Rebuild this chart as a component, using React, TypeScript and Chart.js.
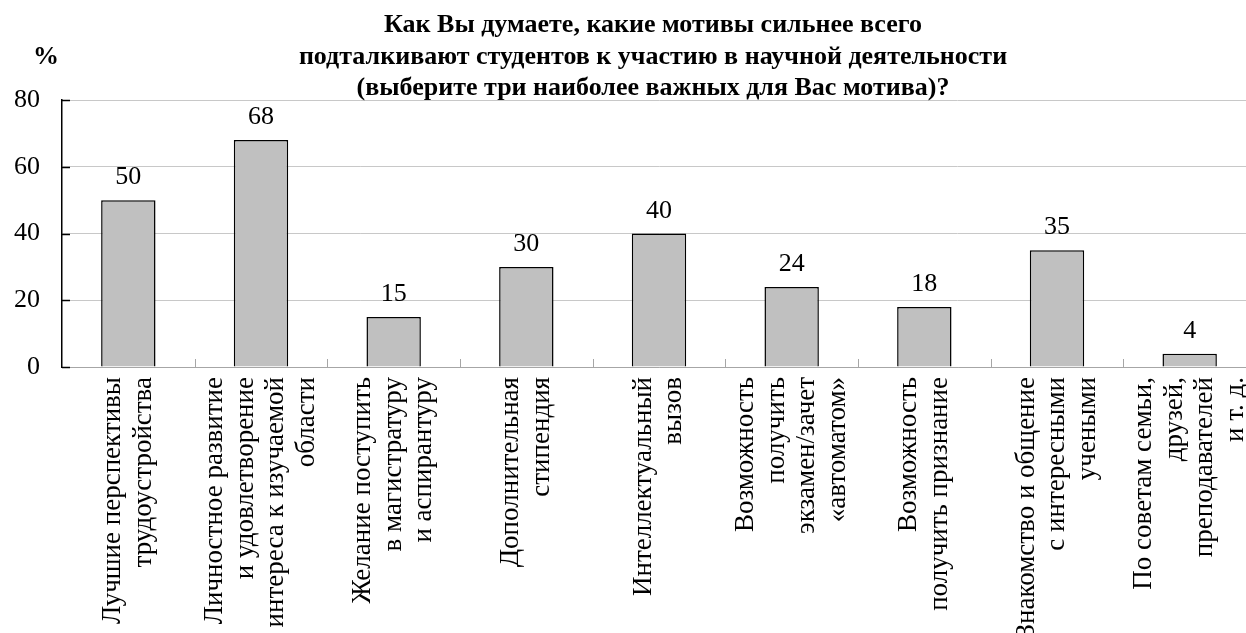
import React, { useEffect, useRef } from "react";
import { Chart, registerables } from "chart.js";

Chart.register(...registerables);

const titleLines: string[] = [
  "Как Вы думаете, какие мотивы сильнее всего",
  "подталкивают студентов к участию в научной деятельности",
  "(выберите три наиболее важных для Вас мотива)?",
];
const yUnit = "%";
const categories: string[][] = [
  ["Лучшие перспективы", "трудоустройства"],
  ["Личностное развитие", "и удовлетворение", "интереса к изучаемой", "области"],
  ["Желание поступить", "в магистратуру", "и аспирантуру"],
  ["Дополнительная", "стипендия"],
  ["Интеллектуальный", "вызов"],
  ["Возможность", "получить", "экзамен/зачет", "«автоматом»"],
  ["Возможность", "получить признание"],
  ["Знакомство и общение", "с интересными", "учеными"],
  ["По советам семьи,", "друзей,", "преподавателей", "и т. д."],
];
const values: number[] = [50, 68, 15, 30, 40, 24, 18, 35, 4];
const yMin = 0;
const yMax = 80;
const yStep = 20;

const SERIF = "'Liberation Serif', 'Times New Roman', serif";
const CANVAS_W = 1256;
const CANVAS_H = 633;
const PLOT_TOP = 100;
const PLOT_BOTTOM = 367;
const Y_AXIS_W = 62;

const decorPlugin = {
  id: "decor",
  afterDatasetsDraw(chart: any) {
    const ctx = chart.ctx;
    const meta = chart.getDatasetMeta(0);
    ctx.save();
    ctx.fillStyle = "#000";
    ctx.font = `26px ${SERIF}`;
    ctx.textAlign = "center";
    ctx.textBaseline = "alphabetic";
    meta.data.forEach((bar: any, i: number) => {
      ctx.fillText(String(values[i]), bar.x, bar.y - 16);
    });
    ctx.restore();
  },
  afterDraw(chart: any) {
    const ctx = chart.ctx;
    const area = chart.chartArea;
    const xs = chart.scales.x;
    const ys = chart.scales.y;
    ctx.save();
    ctx.strokeStyle = "#000";
    ctx.lineWidth = 1.5;
    ys.ticks.forEach((t: any) => {
      const y = Math.round(ys.getPixelForValue(t.value)) + 0.5;
      ctx.beginPath();
      ctx.moveTo(area.left, y);
      ctx.lineTo(area.left + 8, y);
      ctx.stroke();
    });
    ctx.strokeStyle = "#a6a6a6";
    ctx.lineWidth = 1;
    for (let i = 1; i <= categories.length; i++) {
      const x = Math.round((xs.getPixelForValue(i - 1) + xs.getPixelForValue(i)) / 2) + 0.5;
      ctx.beginPath();
      ctx.moveTo(x, area.bottom);
      ctx.lineTo(x, area.bottom - 8);
      ctx.stroke();
    }
    ctx.fillStyle = "#000";
    ctx.font = `27px ${SERIF}`;
    ctx.textAlign = "right";
    ctx.textBaseline = "middle";
    const lh = 30.5;
    categories.forEach((lines, i) => {
      const cx = xs.getPixelForValue(i);
      const n = lines.length;
      lines.forEach((line, j) => {
        const x = cx + (j - (n - 1) / 2) * lh;
        ctx.save();
        ctx.translate(x, area.bottom + 10);
        ctx.rotate(-Math.PI / 2);
        ctx.fillText(line, 0, 0);
        ctx.restore();
      });
    });
    ctx.font = `bold 26px ${SERIF}`;
    ctx.textAlign = "center";
    ctx.textBaseline = "alphabetic";
    const baselines = [32, 63.5, 95];
    titleLines.forEach((t, i) => ctx.fillText(t, 653, baselines[i]));
    ctx.fillText(yUnit, 46, 64);
    ctx.restore();
  },
};

export default function App() {
  const ref = useRef<HTMLCanvasElement | null>(null);
  useEffect(() => {
    if (!ref.current) return;
    const chart = new Chart(ref.current, {
      type: "bar",
      data: {
        labels: categories.map((c) => c.join(" ")),
        datasets: [
          {
            data: values,
            backgroundColor: "#c0c0c0",
            borderColor: "#000",
            borderWidth: 1.5,
            barPercentage: 0.41,
            categoryPercentage: 1,
          },
        ],
      },
      options: {
        responsive: false,
        animation: false,
        devicePixelRatio: 1,
        layout: { padding: { top: PLOT_TOP, left: 0, right: 0, bottom: 0 } },
        plugins: {
          legend: { display: false },
          tooltip: { enabled: false },
          title: { display: false },
        },
        scales: {
          x: {
            grid: { display: false },
            ticks: { display: false },
            border: { display: true, color: "#a6a6a6", width: 1 },
            afterFit: (s: any) => {
              s.height = CANVAS_H - PLOT_BOTTOM;
            },
          },
          y: {
            min: yMin,
            max: yMax,
            ticks: {
              stepSize: yStep,
              color: "#000",
              font: { family: SERIF, size: 26 },
              padding: 22,
            },
            grid: { color: "#c8c8c8", drawTicks: false, lineWidth: 1 },
            border: { color: "#000", width: 1.5 },
            afterFit: (s: any) => {
              s.width = Y_AXIS_W;
            },
          },
        },
      },
      plugins: [decorPlugin],
    });
    return () => chart.destroy();
  }, []);
  return (
    <div
      style={{
        position: "fixed",
        left: 0,
        top: 0,
        width: 1246,
        height: 633,
        overflow: "hidden",
        background: "#fff",
      }}
    >
      <canvas
        ref={ref}
        width={CANVAS_W}
        height={CANVAS_H}
        style={{ width: CANVAS_W, height: CANVAS_H, display: "block" }}
      />
    </div>
  );
}
